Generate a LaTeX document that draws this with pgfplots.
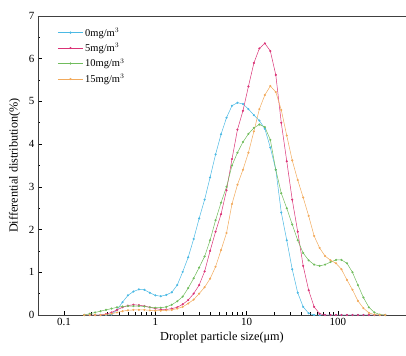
\documentclass[border=0pt]{standalone}
\usepackage{fontspec}
\setmainfont{Liberation Serif}
\usepackage{pgfplots}
\usepackage{pgfplotstable}
\pgfplotsset{compat=1.18}
\definecolor{cB}{RGB}{75,185,228}
\definecolor{cM}{RGB}{218,50,118}
\definecolor{cG}{RGB}{112,188,92}
\definecolor{cO}{RGB}{242,170,92}
\pgfplotstableread{
x B M G O
0.166 0 0 0 0
0.191 0 0 0.03 0
0.219 0 0 0.06 0
0.251 0 0 0.09 0
0.288 0 0.02 0.12 0.01
0.331 0.01 0.06 0.15 0.03
0.380 0.12 0.12 0.18 0.06
0.437 0.30 0.18 0.20 0.09
0.501 0.46 0.22 0.21 0.11
0.575 0.55 0.24 0.21 0.12
0.661 0.60 0.23 0.21 0.12
0.759 0.59 0.21 0.20 0.12
0.871 0.52 0.18 0.18 0.11
1.000 0.46 0.15 0.17 0.10
1.148 0.44 0.13 0.17 0.10
1.318 0.47 0.13 0.19 0.11
1.514 0.53 0.15 0.24 0.12
1.738 0.70 0.18 0.32 0.15
1.995 1.01 0.25 0.43 0.19
2.291 1.35 0.35 0.63 0.27
2.630 1.78 0.50 0.86 0.36
3.020 2.26 0.70 1.11 0.50
3.467 2.70 1.02 1.37 0.65
3.981 3.22 1.50 1.75 0.85
4.571 3.76 1.95 2.22 1.13
5.248 4.23 2.36 2.63 1.52
6.026 4.62 2.92 3.00 1.92
6.918 4.90 3.65 3.50 2.60
7.943 4.97 4.34 3.80 3.05
9.120 4.94 4.78 4.05 3.40
10.47 4.82 5.35 4.24 3.80
12.02 4.68 5.90 4.38 4.30
13.80 4.55 6.24 4.46 4.82
15.85 4.36 6.36 4.40 5.15
18.20 3.92 6.18 4.10 5.36
20.89 3.40 5.62 3.40 5.22
23.99 2.40 4.50 2.85 4.80
27.54 1.75 3.60 2.50 4.20
31.62 1.07 2.70 2.12 3.62
36.31 0.52 1.95 1.75 3.16
41.69 0.19 1.15 1.45 2.75
47.86 0.04 0.58 1.28 2.32
54.95 0 0.19 1.18 1.85
63.10 0 0.03 1.15 1.57
72.44 0 0 1.18 1.38
83.18 0 0 1.24 1.28
95.50 0 0 1.29 1.21
109.6 0 0 1.29 1.07
125.9 0 0 1.21 0.82
144.5 0 0 1.00 0.59
166.0 0 0 0.70 0.33
190.5 0 0 0.41 0.16
218.8 0 0 0.18 0.05
251.2 0 0 0.06 0.01
288.4 0 0 0.01 0
331.1 0 0 0 0
}\data
\begin{document}
\begin{tikzpicture}
\begin{axis}[
  name=ax,
  scale only axis,
  width=368bp, height=299bp,
  xmode=log,
  xmin=0.0518, xmax=558,
  ymin=0, ymax=7,
  axis x line*=box,
  axis y line*=left,
  xtick pos=bottom,
  ytick pos=left,
  tick align=inside,
  major tick length=4bp,
  minor tick length=2.5bp,
  xtick={0.1,1,10,100},
  xticklabels={0.1,1,10,100},
  ytick={0,1,2,3,4,5,6,7},
  minor ytick={0.5,1.5,2.5,3.5,4.5,5.5,6.5},
  tick style={black, line width=0.6pt},
  axis line style={black!75, line width=0.9pt},
  /pgf/number format/assume math mode=true,
  ticklabel style={font=\fontsize{11}{12}\selectfont},
  xlabel={Droplet particle size(μm)},
  ylabel={Differential distribution(\%)},
  label style={font=\fontsize{12.3}{14}\selectfont},
  xlabel style={yshift=1bp},
  ylabel style={yshift=2bp},
  legend style={at={(0.045,0.975)}, anchor=north west, draw=none, fill=none,
    font=\fontsize{10.5}{12}\selectfont, row sep=1.5bp},
  legend cell align=left,
  legend image code/.code={
    \draw[#1] (0bp,0bp) -- (25bp,0bp);
    \draw[#1, mark repeat=1] plot coordinates {(12.5bp,0bp)};
  },
  every axis plot/.append style={line width=0.5pt, mark=*, mark size=0.8pt},
]
\addplot[cB, mark options={fill=cB, draw=cB}] table[x=x, y=B] {\data};
\addlegendentry{0mg/m$^{3}$}
\addplot[cM, mark options={fill=cM, draw=cM}] table[x=x, y=M] {\data};
\addlegendentry{5mg/m$^{3}$}
\addplot[cG, mark options={fill=cG, draw=cG}] table[x=x, y=G] {\data};
\addlegendentry{10mg/m$^{3}$}
\addplot[cO, mark options={fill=cO, draw=cO}] table[x=x, y=O] {\data};
\addlegendentry{15mg/m$^{3}$}
\end{axis}
\pgfresetboundingbox
\path ([shift={(-38bp,-41bp)}]ax.south west) rectangle ([shift={(0bp,16bp)}]ax.north east);
\end{tikzpicture}
\end{document}
